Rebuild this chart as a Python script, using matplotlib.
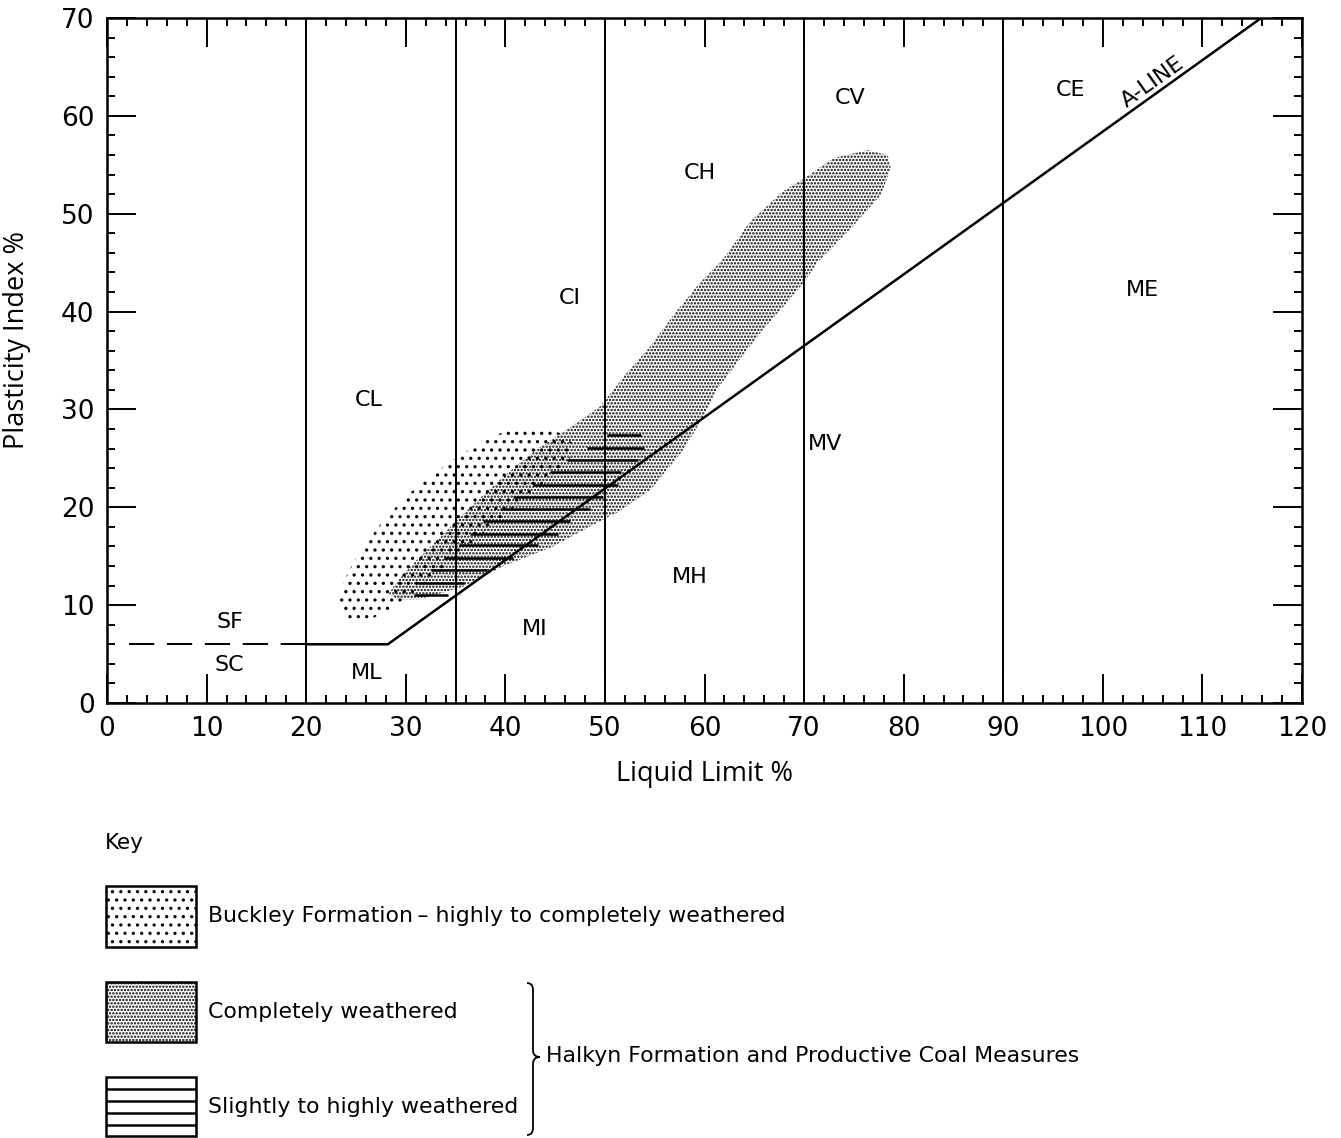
import matplotlib
matplotlib.use('Agg')
import matplotlib.pyplot as plt
from matplotlib.patches import Polygon, Rectangle, PathPatch
from matplotlib.path import Path
from matplotlib.ticker import MultipleLocator

# plasticity chart zone boundaries (liquid limit %)
ll_bounds = [20, 35, 50, 70, 90]
# A-line, flattened at PI = 6 below LL 28
aline_ll = [20, 28.2, 115.9]
aline_pi = [6, 6, 70]
sand_ll = [2.2, 20]
sand_pi = [6, 6]

zone_names = ['SF', 'SC', 'ML', 'CL', 'CI', 'MI', 'CH', 'MH', 'CV', 'MV', 'CE', 'ME']
zone_ll = [12.3, 12.3, 26.1, 26.3, 46.5, 42.9, 59.5, 58.5, 74.6, 72.1, 96.8, 104.0]
zone_pi = [8.3, 3.9, 3.1, 31.0, 41.4, 7.6, 54.2, 12.9, 61.8, 26.5, 62.6, 42.2]

# Buckley Formation - highly to completely weathered
buckley_ll = [23.3, 23.8, 24.8, 26.0, 27.5, 29.0, 31.0, 34.0, 37.0, 40.0, 43.0, 45.5,
              46.8, 46.5, 45.0, 42.0, 38.0, 34.0, 31.0, 28.5, 26.0, 24.0]
buckley_pi = [10.5, 12.5, 14.5, 16.3, 18.3, 20.0, 22.0, 24.3, 26.3, 27.8, 28.2, 27.6,
              26.5, 25.0, 23.5, 21.0, 17.5, 14.0, 11.5, 9.6, 8.3, 8.6]

# Halkyn Fm / Coal Measures - completely weathered
cw_ll = [28.3, 29.2, 31.0, 34.0, 37.0, 40.0, 43.0, 46.0, 48.0, 49.5, 52.0, 54.6, 57.0,
         59.6, 61.9, 64.6, 67.9, 70.0, 73.0, 76.4, 78.4, 78.7,
         77.7, 74.7, 71.4, 70.0, 68.0, 65.9, 63.3, 61.3, 59.9, 57.9, 54.6, 51.3,
         49.9, 44.8, 39.8, 35.8, 31.4, 29.1]
cw_pi = [11.2, 12.5, 14.5, 17.5, 20.5, 23.3, 25.8, 27.8, 29.2, 30.3, 33.5, 36.5, 39.8,
         43.0, 45.4, 49.2, 52.3, 53.6, 55.7, 56.5, 56.0, 54.6,
         51.9, 48.5, 45.1, 43.0, 40.6, 38.2, 34.8, 32.1, 29.3, 25.9, 21.8, 19.5,
         18.8, 16.0, 14.0, 11.9, 10.6, 10.6]

# Halkyn Fm / Coal Measures - slightly to highly weathered
sw_pi = [27.4, 26.1, 24.8, 23.6, 22.3, 21.1, 19.8, 18.6, 17.3, 16.1, 14.8, 13.6, 12.3, 11.0]
sw_ll_min = [50.2, 48.2, 46.2, 44.5, 42.8, 40.8, 39.5, 37.8, 36.5, 35.3, 33.8, 32.5, 31.2, 30.8]
sw_ll_max = [53.6, 53.9, 53.3, 51.6, 51.3, 49.8, 48.5, 46.5, 45.3, 43.3, 40.8, 38.2, 35.8, 34.2]

x_ticks = list(range(0, 121, 10))
y_ticks = list(range(0, 71, 10))

key_labels = ['Buckley Formation\u2009\u2013 highly to completely weathered',
              'Completely weathered',
              'Slightly to highly weathered']
group_label = 'Halkyn Formation and Productive Coal Measures'


def hatch_lw(p, lw):
    if hasattr(p, 'set_hatch_linewidth'):
        p.set_hatch_linewidth(lw)


plt.rcParams['hatch.linewidth'] = 1.0
fig = plt.figure(figsize=(13.41, 11.38), dpi=100)
ax = fig.add_axes([107 / 1341, 1 - 703 / 1138, 1195 / 1341, 685 / 1138])
ax.set_xlim(0, 120)
ax.set_ylim(0, 70)

buck = Polygon(list(zip(buckley_ll, buckley_pi)), closed=True, facecolor='none',
               edgecolor='black', lw=0, hatch='..', zorder=2)
hatch_lw(buck, 1.15)
ax.add_patch(buck)
cw = Polygon(list(zip(cw_ll, cw_pi)), closed=True, facecolor='none',
             edgecolor='black', lw=0, hatch='.....', zorder=2.1)
hatch_lw(cw, 1.15)
ax.add_patch(cw)
ax.hlines(sw_pi, sw_ll_min, sw_ll_max, color='black', lw=1.8, zorder=3)

ax.vlines(ll_bounds, 0, 70, color='black', lw=1.4, zorder=3)
ax.plot(aline_ll, aline_pi, color='black', lw=1.8, zorder=4)
ax.plot(sand_ll, sand_pi, color='black', lw=1.4, linestyle=(0, (13, 6.5)), zorder=4)

for name, x, y in zip(zone_names, zone_ll, zone_pi):
    ax.text(x, y, name, fontsize=16, ha='center', va='center')
ax.text(105.0, 63.4, 'A-LINE', fontsize=16, rotation=35.6, rotation_mode='anchor',
        ha='center', va='center')

ax.set_xticks(x_ticks)
ax.set_xticklabels([str(t) for t in x_ticks])
ax.set_yticks(y_ticks)
ax.set_yticklabels([str(t) for t in y_ticks])
ax.xaxis.set_minor_locator(MultipleLocator(2))
ax.yaxis.set_minor_locator(MultipleLocator(2))
ax.tick_params(which='both', direction='in', top=True, right=True, width=1.4)
ax.tick_params(which='major', length=21, labelsize=19, pad=9)
ax.tick_params(which='minor', length=6)
for s in ax.spines.values():
    s.set_linewidth(1.8)

ax.set_xlabel('Liquid Limit %', fontsize=19.5, family='Open Sans')
ax.xaxis.set_label_coords(0.5, -0.083)
ax.set_ylabel('Plasticity Index %', fontsize=19.5, family='Open Sans')
ax.yaxis.set_label_coords(-0.064, 0.53)

# key, drawn in pixel coordinates
kax = fig.add_axes([0, 0, 1, 1])
kax.set_xlim(0, 1341)
kax.set_ylim(1138, 0)
kax.axis('off')

kax.text(105, 843, 'Key', fontsize=15.5, ha='left', va='center')
r1 = Rectangle((106, 886), 90, 61, facecolor='white', edgecolor='black', lw=1.8, hatch='..')
hatch_lw(r1, 1.15)
kax.add_patch(r1)
r2 = Rectangle((106, 982), 90, 60, facecolor='white', edgecolor='black', lw=1.8, hatch='.....')
hatch_lw(r2, 1.15)
kax.add_patch(r2)
kax.add_patch(Rectangle((106, 1077), 90, 59, facecolor='white', edgecolor='black', lw=1.8))
kax.hlines([1089, 1101, 1113, 1125], 106, 196, color='black', lw=1.8)

for lab, yy in zip(key_labels, [916, 1012, 1107]):
    kax.text(208, yy, lab, fontsize=15.8, ha='left', va='center')

verts = [(527, 983), (533, 983), (533, 990), (533, 1050), (533, 1057), (540, 1057),
         (533, 1057), (533, 1064), (533, 1128), (533, 1135), (527, 1135)]
codes = [Path.MOVETO, Path.CURVE3, Path.CURVE3, Path.LINETO, Path.CURVE3, Path.CURVE3,
         Path.CURVE3, Path.CURVE3, Path.LINETO, Path.CURVE3, Path.CURVE3]
kax.add_patch(PathPatch(Path(verts, codes), facecolor='none', edgecolor='black', lw=1.3))
kax.text(546, 1056, group_label, fontsize=15.8, ha='left', va='center')

fig.savefig('out.png', dpi=100)
